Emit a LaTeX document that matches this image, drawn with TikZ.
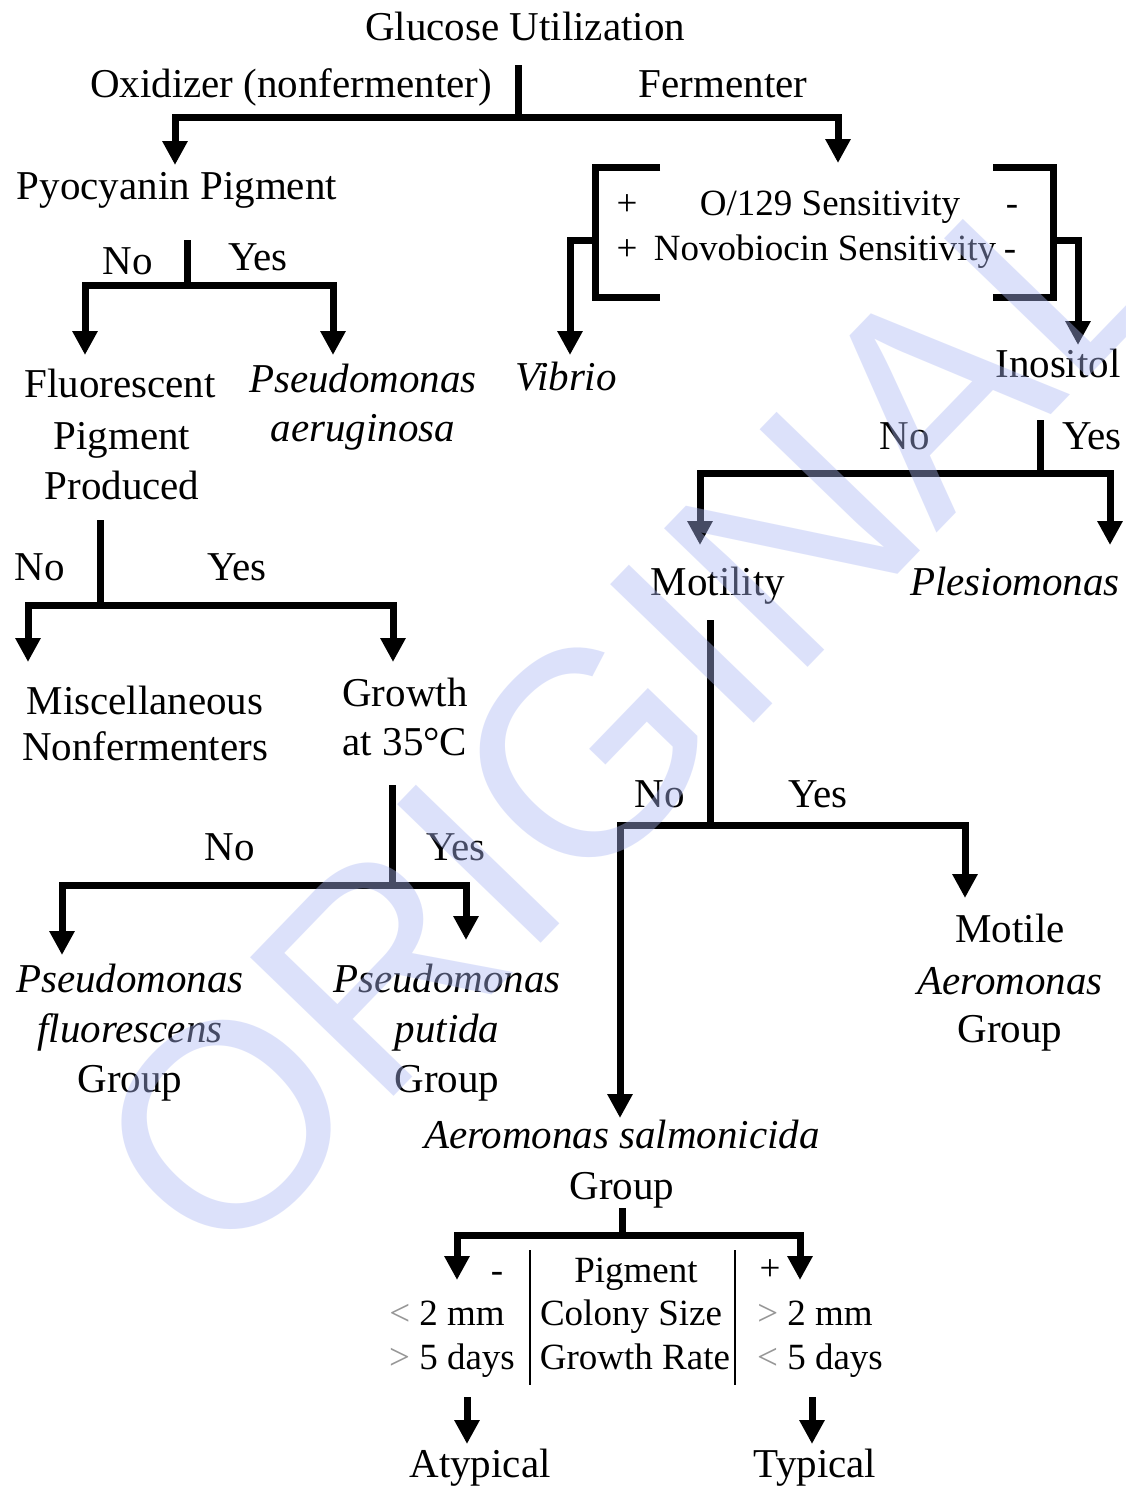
\documentclass[tikz,border=0pt]{standalone}
\usepackage{fontspec}
\setmainfont{Liberation Serif}
\newfontfamily\wmfont{Liberation Sans}
\usetikzlibrary{arrows.meta}
\definecolor{wmblue}{RGB}{172,184,245}
\definecolor{ltgray}{RGB}{150,150,150}
\begin{document}
\begin{tikzpicture}[x=1pt,y=-1pt,
  lbl/.style={anchor=base, inner sep=0pt, font=\fontsize{41}{50}\selectfont},
  itl/.style={lbl, font=\fontsize{41}{50}\selectfont\itshape},
  sm/.style={anchor=base, inner sep=0pt, font=\fontsize{37}{44}\selectfont},
  ln/.style={line width=7pt, line join=miter},
  arr/.style={ln, -{Triangle[width=24pt,length=24pt]}},
  arrtwo/.style={ln, {Triangle[width=24pt,length=24pt]}-{Triangle[width=24pt,length=24pt]}},
  thinln/.style={line width=2.5pt},
  wmark/.style={text=wmblue, text opacity=0.41, inner sep=0pt, font=\wmfont\fontsize{290}{290}\selectfont}]
\useasboundingbox[fill=white] (0,0) rectangle (1125,1489);

% ---------- texts ----------
\node[lbl] (glu) at (525,40) {Glucose Utilization};
\node[lbl] (oxi) at (291,97) {Oxidizer (nonfermenter)};
\node[lbl] (fer) at (723,97) {Fermenter};
\node[lbl] (pyo) at (177,199) {Pyocyanin Pigment};

\node[sm] (plusA) at (627,215) {+};
\node[sm] (o129) at (830,215) {O/129 Sensitivity};
\node[sm] (minA) at (1012,215) {-};
\node[sm] (plusB) at (627,260) {+};
\node[sm] (novo) at (825,260) {Novobiocin Sensitivity};
\node[sm] (minB) at (1010,260) {-};

\node[lbl] (noA) at (128,274) {No};
\node[lbl] (yesA) at (258,270) {Yes};

\node[lbl] (fl1) at (120,397) {Fluorescent};
\node[lbl] (fl2) at (122,449) {Pigment};
\node[lbl] (fl3) at (122,499) {Produced};
\node[itl] (pa1) at (363,392) {Pseudomonas};
\node[itl] (pa2) at (363,441) {aeruginosa};
\node[itl] (vib) at (566,390) {Vibrio};
\node[lbl] (ino) at (1058,377) {Inositol};

\node[lbl] (noB) at (905,449) {No};
\node[lbl] (yesB) at (1092,449) {Yes};
\node[lbl] (mot) at (718,595) {Motility};
\node[itl] (ple) at (1015,595) {Plesiomonas};

\node[lbl] (noC) at (40,580) {No};
\node[lbl] (yesC) at (237,580) {Yes};
\node[lbl] (mi1) at (145,714) {Miscellaneous};
\node[lbl] (mi2) at (145,760) {Nonfermenters};
\node[lbl] (gr1) at (405,706) {Growth};
\node[lbl] (gr2) at (405,755) {at 35°C};

\node[lbl] (noD) at (230,860) {No};
\node[lbl] (yesD) at (456,860) {Yes};
\node[itl] (pf1) at (130,992) {Pseudomonas};
\node[itl] (pf2) at (130,1042) {fluorescens};
\node[lbl] (pf3) at (130,1092) {Group};
\node[itl] (pp1) at (447,992) {Pseudomonas};
\node[itl] (pp2) at (447,1042) {putida};
\node[lbl] (pp3) at (447,1092) {Group};

\node[lbl] (noE) at (660,807) {No};
\node[lbl] (yesE) at (818,807) {Yes};
\node[lbl] (ma1) at (1010,942) {Motile};
\node[itl] (ma2) at (1010,994) {Aeromonas};
\node[lbl] (ma3) at (1010,1042) {Group};

\node[itl] (as1) at (622,1148) {Aeromonas salmonicida};
\node[lbl] (as2) at (622,1199) {Group};

\node[sm] (minC) at (497,1282) {-};
\node[sm] (pig) at (636,1282) {Pigment};
\node[sm] (plusC) at (770,1280) {+};
\node[sm] (ltA) at (447,1325) {{\color{ltgray}<} 2 mm};
\node[sm] (col) at (631,1325) {Colony Size};
\node[sm] (gtA) at (815,1325) {{\color{ltgray}>} 2 mm};
\node[sm] (gtB) at (452,1369) {{\color{ltgray}>} 5 days};
\node[sm] (gro) at (635,1369) {Growth Rate};
\node[sm] (ltB) at (820,1369) {{\color{ltgray}<} 5 days};

\node[lbl] (aty) at (480,1477) {Atypical};
\node[lbl] (typ) at (815,1477) {Typical};

% ---------- connector points ----------
\coordinate (gluS) at (518,65);
\coordinate (gluJ) at (518,117);
\coordinate (pyoN) at (175,165);
\coordinate (ferN) at (838,163);

\coordinate (lbT) at (660,167);
\coordinate (lbTL) at (595,167);
\coordinate (lbBL) at (595,297);
\coordinate (lbB) at (660,297);
\coordinate (rbT) at (993,167);
\coordinate (rbTR) at (1053,167);
\coordinate (rbBR) at (1053,297);
\coordinate (rbB) at (993,297);
\coordinate (lbM) at (595,240);
\coordinate (vibN) at (570,355);
\coordinate (rbM) at (1053,240);
\coordinate (inoN) at (1078,345);

\coordinate (pyoS) at (187,240);
\coordinate (pyoJ) at (187,285);
\coordinate (flN) at (85,355);
\coordinate (paN) at (333,355);

\coordinate (flS) at (100,520);
\coordinate (flJ) at (100,605);
\coordinate (miN) at (28,662);
\coordinate (grN) at (393,662);

\coordinate (grS) at (392,785);
\coordinate (grJ) at (392,885);
\coordinate (pfN) at (62,955);
\coordinate (ppN) at (466,940);

\coordinate (inoS) at (1040,420);
\coordinate (inoJ) at (1040,473);
\coordinate (motN) at (700,545);
\coordinate (pleN) at (1110,545);

\coordinate (motS) at (710,620);
\coordinate (motJ) at (710,825);
\coordinate (asN) at (620,1118);
\coordinate (maN) at (965,898);

\coordinate (asS) at (622,1208);
\coordinate (asJ) at (622,1235);
\coordinate (negN) at (457,1280);
\coordinate (posN) at (800,1280);

\coordinate (sepAt) at (530,1250);
\coordinate (sepAb) at (530,1385);
\coordinate (sepBt) at (735,1250);
\coordinate (sepBb) at (735,1385);

\coordinate (atyS) at (467,1397);
\coordinate (atyN) at (467,1444);
\coordinate (typS) at (812,1397);
\coordinate (typN) at (812,1444);

% ---------- connectors ----------
\draw[ln] (gluS) -- (gluJ);
\draw[arrtwo] (pyoN) |- (gluJ) -| (ferN);

\draw[ln] (lbT) -- (lbTL) -- (lbBL) -- (lbB);
\draw[ln] (rbT) -- (rbTR) -- (rbBR) -- (rbB);
\draw[arr] (lbM) -| (vibN);
\draw[arr] (rbM) -| (inoN);

\draw[ln] (pyoS) -- (pyoJ);
\draw[arrtwo] (flN) |- (pyoJ) -| (paN);

\draw[ln] (flS) -- (flJ);
\draw[arrtwo] (miN) |- (flJ) -| (grN);

\draw[ln] (grS) -- (grJ);
\draw[arrtwo] (pfN) |- (grJ) -| (ppN);

\draw[ln] (inoS) -- (inoJ);
\draw[arrtwo] (motN) |- (inoJ) -| (pleN);

\draw[ln] (motS) -- (motJ);
\draw[arrtwo] (asN) |- (motJ) -| (maN);

\draw[ln] (asS) -- (asJ);
\draw[arrtwo] (negN) |- (asJ) -| (posN);

\draw[thinln] (sepAt) -- (sepAb);
\draw[thinln] (sepBt) -- (sepBb);

\draw[arr] (atyS) -- (atyN);
\draw[arr] (typS) -- (typN);

% watermark overlay
\node[wmark, rotate=46] (wm) at (630,708) {ORIGINAL};
\end{tikzpicture}
\end{document}
